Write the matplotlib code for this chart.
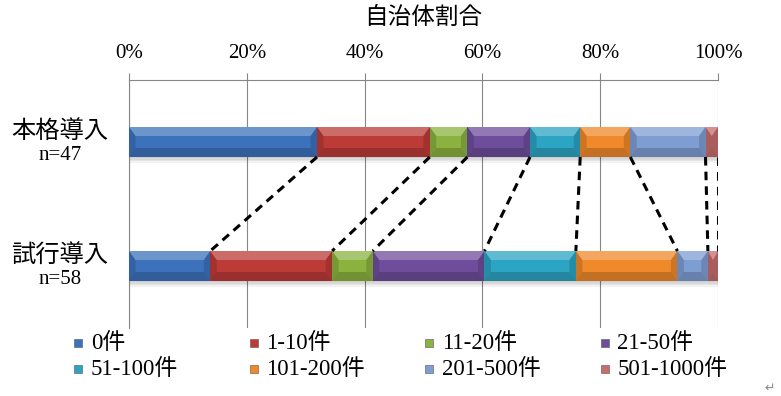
import numpy as np
import matplotlib
matplotlib.use('Agg')
import matplotlib.pyplot as plt
from matplotlib.patches import Rectangle

JP = ['Noto Sans CJK JP']
MIX = ['Liberation Serif', 'Noto Sans CJK JP']

groups = ['本格導入', '試行導入']
ranges = ['0件', '1-10件', '11-20件', '21-50件',
          '51-100件', '101-200件', '201-500件', '501-1000件']
colors = ['#3C72BC', '#BC3B37', '#8BB23F', '#6E4D9C',
          '#2CA4C3', '#F0892A', '#7E9ED3', '#C66D6D']

# number of municipalities in each size band
full_counts = [15, 9, 3, 5, 4, 4, 6, 1]     # 本格導入
trial_counts = [8, 12, 4, 11, 9, 10, 3, 1]  # 試行導入

counts = np.array([full_counts, trial_counts], dtype=float)
totals = counts.sum(axis=1)
shares = counts / totals[:, None] * 100
lefts = np.cumsum(shares, axis=1) - shares
rights = lefts + shares

fig = plt.figure(figsize=(7.81, 3.96), dpi=100)
ax = fig.add_axes([0.1652, 0.1717, 0.7542, 0.6263])
h = 0.242
rows = np.arange(len(groups))

for j in range(len(ranges)):
    ax.barh(rows, shares[:, j], left=lefts[:, j], height=h,
            color=colors[j], lw=0, zorder=3)

# bevel shading on each segment
for i in rows:
    yt, yb = i - h / 2, i + h / 2
    dy = h * 0.3
    for j in range(len(ranges)):
        x0, x1 = lefts[i, j], rights[i, j]
        dx = min(1.1, (x1 - x0) / 2)
        ax.fill([x0, x1, x1 - dx, x0 + dx], [yt, yt, yt + dy, yt + dy],
                color='white', alpha=0.25, lw=0, zorder=3.1)
        ax.fill([x0, x1, x1 - dx, x0 + dx], [yb, yb, yb - dy, yb - dy],
                color='black', alpha=0.18, lw=0, zorder=3.1)
        ax.fill([x0, x0 + dx, x0 + dx, x0], [yt, yt + dy, yb - dy, yb],
                color='black', alpha=0.14, lw=0, zorder=3.1)
        ax.fill([x1, x1 - dx, x1 - dx, x1], [yt, yt + dy, yb - dy, yb],
                color='black', alpha=0.14, lw=0, zorder=3.1)
    # soft shadow under the bar
    for k in range(4):
        ax.add_patch(Rectangle((0, yb), 100, 0.012 * (k + 1), color='black',
                               alpha=0.05, lw=0, zorder=2))

# series lines between the two bars
for j in range(len(ranges)):
    ax.plot([rights[0, j], rights[1, j]], [h / 2, 1 - h / 2], color='black',
            lw=2.2, linestyle=(0, (2.8, 2.0)), dash_capstyle='butt', zorder=4)

ax.set_xlim(0, 100)
ax.set_ylim(1.5, -0.5)
ax.xaxis.tick_top()
ticks = np.arange(0, 101, 20)
ax.set_xticks(ticks)
ax.set_xticklabels([f'{t}%' for t in ticks], family='Liberation Serif',
                   fontsize=15)
ax.tick_params(axis='x', length=5, width=0.8, color='#868686', pad=7)
ax.grid(axis='x', color='#868686', lw=0.8)
ax.set_axisbelow(True)

# category labels: name above, sample size below
ax.set_yticks(rows)
ax.set_yticklabels([])
ax.tick_params(axis='y', length=0)
ytr = ax.get_yaxis_transform()
for i, (g, n) in enumerate(zip(groups, totals)):
    ax.text(-0.117, i - 0.09, g, transform=ytr, ha='center', va='center',
            fontsize=17.5, family=JP)
    ax.text(-0.117, i + 0.105, f'n={int(n)}', transform=ytr, ha='center',
            va='center', fontsize=15, family='Liberation Serif')

for side in ['right', 'bottom']:
    ax.spines[side].set_visible(False)
for side in ['top', 'left']:
    ax.spines[side].set_color('#868686')
    ax.spines[side].set_linewidth(0.8)

fig.text(0.5423, 1 - 17 / 396, '自治体割合', ha='center', va='center',
         fontsize=17, family=JP)

# legend, two rows of four
W, H = 781, 396
for i, (name, c) in enumerate(zip(ranges, colors)):
    r, col = divmod(i, 4)
    x = 74 + col * 175.5
    y = 343 + r * 26
    fig.patches.append(Rectangle((x / W, 1 - (y + 4) / H), 8 / W, 8 / H,
                                 transform=fig.transFigure, fc=c,
                                 ec='#555555', lw=0.4))
    fig.text((x + 17) / W, 1 - y / H, name, va='center', fontsize=16.5,
             family=MIX)

fig.text(770 / W, 1 - 388 / H, '↵', ha='center', va='center', fontsize=9,
         color='#888888')

fig.savefig('out.png', dpi=100)
